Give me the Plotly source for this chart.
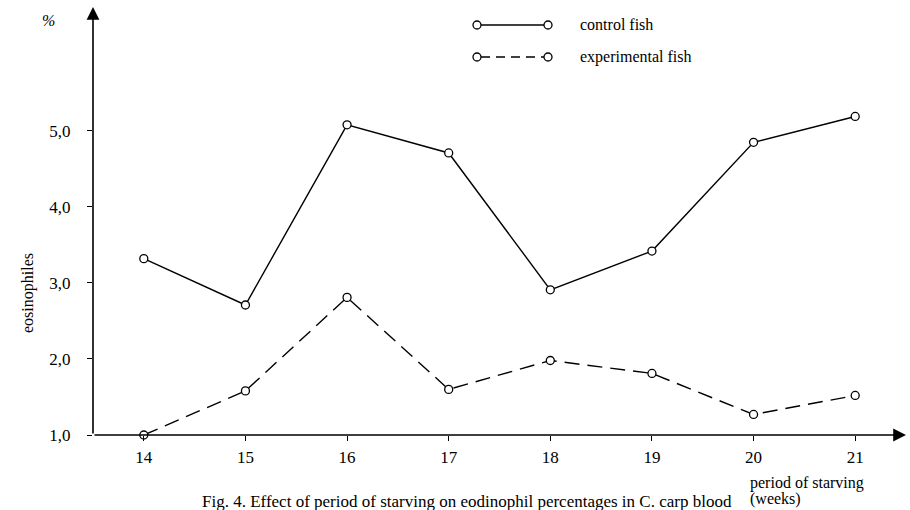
import plotly.graph_objects as go

weeks = [14, 15, 16, 17, 18, 19, 20, 21]
control_fish = [3.32, 2.71, 5.08, 4.71, 2.91, 3.42, 4.85, 5.19]
experimental_fish = [1.0, 1.58, 2.81, 1.60, 1.98, 1.81, 1.27, 1.52]
y_tick_vals = [1, 2, 3, 4, 5]
y_tick_text = ["1,0", "2,0", "3,0", "4,0", "5,0"]
x_tick_text = ["14", "15", "16", "17", "18", "19", "20", "21"]

W, H = 910, 510
ML, MR, MT, MB = 93, 4, 7, 75
PW, PH = W - ML - MR, H - MT - MB
X_RANGE = [13.5, 21.5]
Y_RANGE = [1.0, 6.63]
FONT = "Liberation Serif, Times New Roman, serif"


def px(xp):
    return (xp - ML) / PW


def py(yp):
    return (H - MB - yp) / PH


fig = go.Figure()

fig.add_trace(go.Scatter(
    x=weeks, y=control_fish, mode="lines+markers", name="control fish",
    line=dict(color="black", width=1.4),
    marker=dict(symbol="circle", size=8, color="white",
                line=dict(color="black", width=1.3)),
    cliponaxis=False, showlegend=False))

fig.add_trace(go.Scatter(
    x=weeks, y=experimental_fish, mode="lines+markers", name="experimental fish",
    line=dict(color="black", width=1.4, dash="15px,8px"),
    marker=dict(symbol="circle", size=8, color="white",
                line=dict(color="black", width=1.3)),
    cliponaxis=False, showlegend=False))

annotations = []
shapes = []

# axis lines with arrowheads
annotations.append(dict(x=X_RANGE[1], y=Y_RANGE[0], ax=X_RANGE[0], ay=Y_RANGE[0],
                        xref="x", yref="y", axref="x", ayref="y", text="",
                        showarrow=True, arrowhead=2, arrowsize=1.6, arrowwidth=1.6,
                        arrowcolor="black", standoff=0, startstandoff=0))
annotations.append(dict(x=X_RANGE[0], y=Y_RANGE[1], ax=X_RANGE[0], ay=Y_RANGE[0],
                        xref="x", yref="y", axref="x", ayref="y", text="",
                        showarrow=True, arrowhead=2, arrowsize=1.6, arrowwidth=1.6,
                        arrowcolor="black", standoff=0, startstandoff=0))

# legend (drawn)
legend_items = [("control fish", "solid", 25), ("experimental fish", "dash", 57)]
for label, dash, yp in legend_items:
    shapes.append(dict(type="line", xref="paper", yref="paper",
                       x0=px(481), x1=px(544), y0=py(yp), y1=py(yp),
                       line=dict(color="black", width=1.4,
                                 dash="solid" if dash == "solid" else "9px,6px")))
    for cx in (477, 548):
        shapes.append(dict(type="circle", xref="paper", yref="paper",
                           x0=px(cx - 4), x1=px(cx + 4), y0=py(yp + 4), y1=py(yp - 4),
                           line=dict(color="black", width=1.3), fillcolor="white"))
    annotations.append(dict(x=px(578), y=py(yp), xref="paper", yref="paper",
                            text=label, showarrow=False, xanchor="left", yanchor="middle",
                            font=dict(family=FONT, size=16, color="black")))

# y label and %
annotations.append(dict(x=px(48), y=py(20), xref="paper", yref="paper", text="<i>%</i>",
                        showarrow=False, xanchor="center", yanchor="middle",
                        font=dict(family=FONT, size=16, color="black")))
annotations.append(dict(x=px(28), y=py(293), xref="paper", yref="paper", text="eosinophiles",
                        showarrow=False, textangle=-90, xanchor="center", yanchor="middle",
                        font=dict(family=FONT, size=16, color="black")))

# x label
annotations.append(dict(x=px(748), y=py(483), xref="paper", yref="paper",
                        text="period of starving",
                        showarrow=False, xanchor="left", yanchor="middle",
                        font=dict(family=FONT, size=16, color="black")))
annotations.append(dict(x=px(748), y=py(499), xref="paper", yref="paper",
                        text="(weeks)",
                        showarrow=False, xanchor="left", yanchor="middle",
                        font=dict(family=FONT, size=16, color="black")))

# caption
annotations.append(dict(x=px(734), y=py(490), xref="paper", yref="paper",
                        text="Fig. 4. Effect of period of starving on eodinophil percentages in C. carp blood",
                        showarrow=False, xanchor="right", yanchor="top",
                        font=dict(family=FONT, size=17, color="black")))

fig.update_layout(
    width=W, height=H,
    margin=dict(l=ML, r=MR, t=MT, b=MB, pad=0),
    paper_bgcolor="white", plot_bgcolor="white",
    annotations=annotations, shapes=shapes,
    font=dict(family=FONT, size=16, color="black"),
    xaxis=dict(range=X_RANGE, tickvals=weeks, ticktext=x_tick_text,
               showgrid=False, zeroline=False, showline=False,
               ticks="outside", ticklen=5, tickwidth=1.3, tickcolor="black",
               ticklabelstandoff=2,
               tickfont=dict(family=FONT, size=17, color="black")),
    yaxis=dict(range=Y_RANGE, tickvals=y_tick_vals, ticktext=y_tick_text,
               showgrid=False, zeroline=False, showline=False,
               ticks="outside", ticklen=5, tickwidth=1.3, tickcolor="black",
               ticklabelstandoff=13,
               tickfont=dict(family=FONT, size=17, color="black")),
)

fig.write_html("out.html")
